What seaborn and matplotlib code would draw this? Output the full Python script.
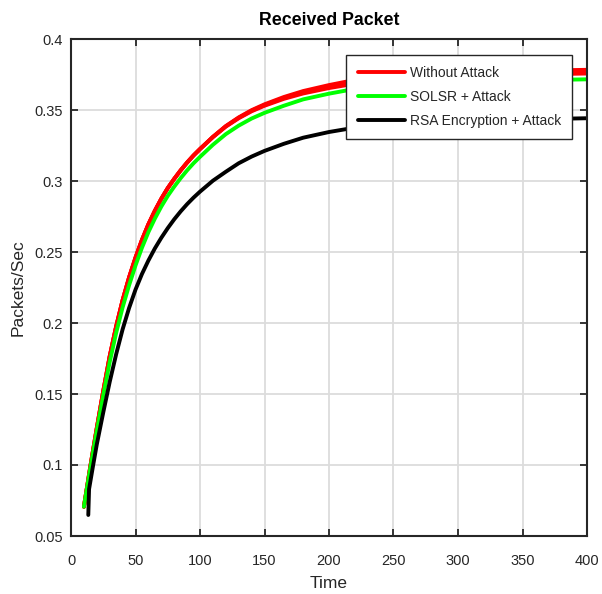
import matplotlib
matplotlib.use("Agg")
import matplotlib.pyplot as plt
import seaborn as sns
import pandas as pd

# ---- data ----
red_x = [10, 15, 20, 25, 30, 35, 40, 45, 50, 55, 60, 65, 70, 75, 80, 85, 90, 95, 100, 110, 120, 130, 140,
         150, 165, 180, 200, 215, 250, 300, 350, 400]
red_y = [0.0706, 0.099, 0.126, 0.152, 0.1765, 0.1975, 0.2160, 0.2320, 0.2460, 0.2585, 0.2695, 0.2790,
         0.2875, 0.2950, 0.3015, 0.3075, 0.3130, 0.3180, 0.3225, 0.3310, 0.3385, 0.3445, 0.3495, 0.3535,
         0.3585, 0.3625, 0.3665, 0.3690, 0.3725, 0.3748, 0.3762, 0.3770]
# width of the red noise band (the red trace thickens toward the right)
red_band = [0, 0, 0, 0, 0, 0, 0, 0, 0, 0, 0, 0, 0, 0, 0, 0, 0, 0, 0, 0.0002, 0.0004, 0.0006, 0.0008,
            0.001, 0.0013, 0.0017, 0.0021, 0.0025, 0.0026, 0.0026, 0.0026, 0.0026]

green_x = red_x
green_y = [0.0706, 0.098, 0.124, 0.149, 0.1725, 0.193, 0.211, 0.2265, 0.2405, 0.253, 0.264, 0.2735,
           0.282, 0.2895, 0.296, 0.302, 0.3075, 0.3125, 0.317, 0.3255, 0.333, 0.339, 0.344, 0.348,
           0.353, 0.3575, 0.3615, 0.364, 0.3672, 0.3695, 0.3708, 0.3716]

black_x = [13.4, 14, 17, 20, 25, 30, 35, 40, 45, 50, 55, 60, 65, 70, 75, 80, 85, 90, 95, 100, 110, 120,
           130, 140, 150, 165, 180, 200, 215, 250, 300, 350, 400]
black_y = [0.0648, 0.083, 0.099, 0.1145, 0.137, 0.1585, 0.178, 0.1955, 0.2105, 0.2235, 0.2345, 0.2440,
           0.2525, 0.2600, 0.2668, 0.2730, 0.2786, 0.2837, 0.2883, 0.2925, 0.3002, 0.3065, 0.3125,
           0.3172, 0.3212, 0.3262, 0.3305, 0.3345, 0.3368, 0.3398, 0.3420, 0.3433, 0.3442]

series_names = ["Without Attack", "SOLSR + Attack", "RSA Encryption + Attack"]
series_colors = ["#ff0000", "#00ff00", "#000000"]
x_ticks = [0, 50, 100, 150, 200, 250, 300, 350, 400]
y_ticks = [0.05, 0.1, 0.15, 0.2, 0.25, 0.3, 0.35, 0.4]
y_tick_labels = ["0.05", "0.1", "0.15", "0.2", "0.25", "0.3", "0.35", "0.4"]

df = pd.concat([
    pd.DataFrame({"Time": red_x, "val": red_y, "series": series_names[0]}),
    pd.DataFrame({"Time": green_x, "val": green_y, "series": series_names[1]}),
    pd.DataFrame({"Time": black_x, "val": black_y, "series": series_names[2]}),
], ignore_index=True)
df_band = pd.DataFrame({"Time": red_x,
                        "lo": [y - b / 2 for y, b in zip(red_y, red_band)],
                        "hi": [y + b / 2 for y, b in zip(red_y, red_band)]})

sns.set_theme(style="white")
plt.rcParams["font.family"] = ["Liberation Sans", "DejaVu Sans"]

fig = plt.figure(figsize=(6.02, 5.94), dpi=100)
ax = fig.add_axes([71 / 602, 1 - 536 / 594, 516 / 602, 497 / 594])

lw = 2.8
sns.lineplot(data=df_band, x="Time", y="hi", color=series_colors[0], lw=lw, ax=ax,
             legend=False, estimator=None, sort=False)
sns.lineplot(data=df_band, x="Time", y="lo", color=series_colors[0], lw=lw, ax=ax,
             legend=False, estimator=None, sort=False)
sns.lineplot(data=df, x="Time", y="val", hue="series", palette=series_colors,
             hue_order=series_names, lw=lw, ax=ax, estimator=None, sort=False)

ax.set_xlim(0, 400)
ax.set_ylim(0.05, 0.4)
ax.set_xticks(x_ticks)
ax.set_yticks(y_ticks)
ax.set_yticklabels(y_tick_labels)
ax.grid(True, color="#dcdcdc", lw=1.3)
ax.set_axisbelow(True)
ax.tick_params(direction="in", length=5, width=1.3, colors="#262626", labelsize=10.5,
               top=True, right=True, left=True, bottom=True)
ax.tick_params(axis="x", pad=13)
ax.tick_params(axis="y", pad=6)
for s in ax.spines.values():
    s.set_color("#262626")
    s.set_linewidth(1.5)
    s.set_visible(True)

ax.set_xlabel("Time", fontsize=12.5, color="#262626", labelpad=6)
ax.set_ylabel("Packets/Sec", fontsize=12.5, color="#262626", labelpad=6)
ax.set_title("Received Packet", fontsize=12.8, fontweight="bold", color="black", pad=10)

leg = ax.legend(loc="upper right", bbox_to_anchor=((572 - 71) / 516, (536 - 55) / 497),
                borderaxespad=0, fontsize=10, frameon=True, fancybox=False, framealpha=1,
                edgecolor="#262626", handlelength=3.4, handletextpad=0.35, labelspacing=0.72,
                borderpad=0.8)
leg.get_frame().set_linewidth(1.0)
for h in leg.get_lines():
    h.set_linewidth(lw)

fig.savefig("out.png", dpi=100)
